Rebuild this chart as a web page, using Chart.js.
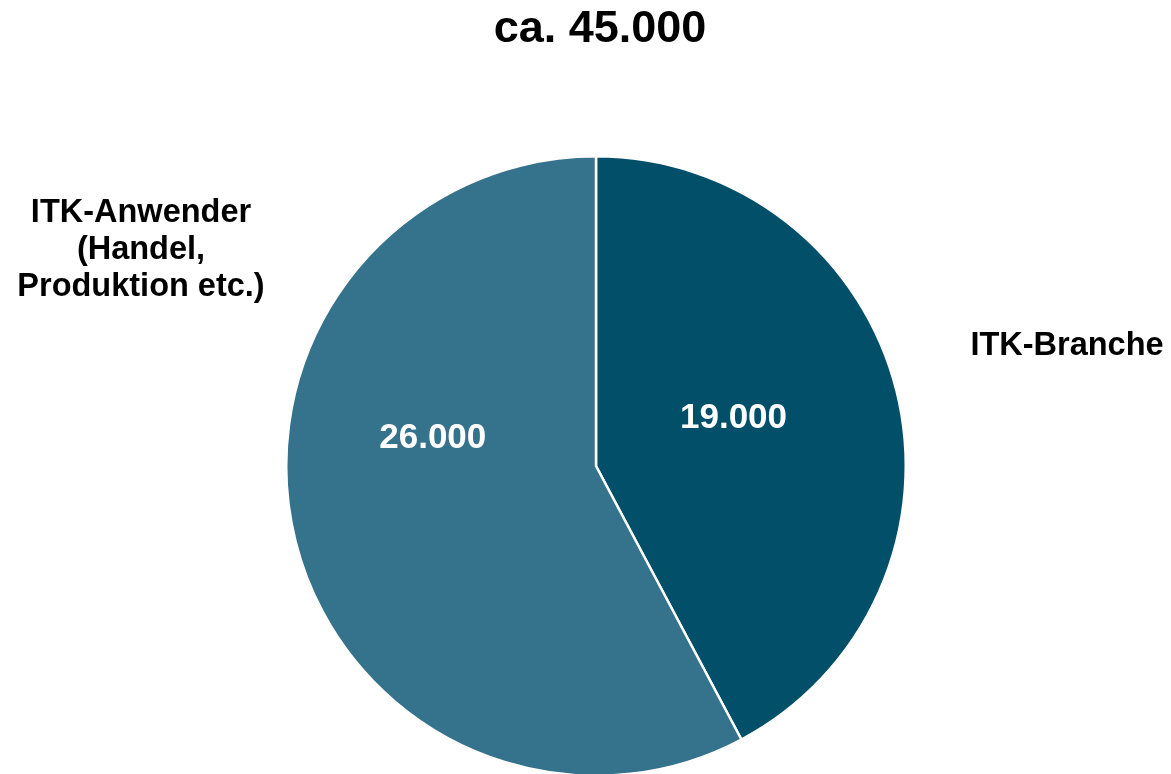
<!DOCTYPE html>
<html><head><meta charset="utf-8">
<script src="https://cdn.jsdelivr.net/npm/chart.js@4/dist/chart.umd.min.js"></script>
<style>
html,body{margin:0;padding:0;background:#fff;overflow:hidden;width:1171px;height:774px;}
#wrap{position:absolute;left:0;top:0;width:1171px;height:778px;}
</style></head>
<body>
<div id="wrap"><canvas id="c"></canvas></div>
<script>
const title = "ca. 45.000";
const categories = ["ITK-Branche", "ITK-Anwender (Handel, Produktion etc.)"];
const categoryLines = [["ITK-Branche"], ["ITK-Anwender", "(Handel,", "Produktion etc.)"]];
const values = [19000, 26000];
const valueLabels = ["19.000", "26.000"];
const colors = ["#024F6A", "#35728B"];

const textPlugin = {
  id: 'texts',
  afterDraw(chart) {
    const ctx = chart.ctx;
    ctx.save();
    ctx.textAlign = 'center';
    ctx.textBaseline = 'middle';
    ctx.fillStyle = '#000';
    ctx.font = 'bold 45px "Liberation Sans", Arial, sans-serif';
    ctx.fillText(title, 600, 30);
    // category labels
    ctx.font = 'bold 32.5px "Liberation Sans", Arial, sans-serif';
    const catPos = [[1067, 346], [141, 213]];
    categoryLines.forEach((lines, i) => {
      lines.forEach((ln, j) => {
        ctx.fillText(ln, catPos[i][0], catPos[i][1] + j * 37);
      });
    });
    // values inside slices, placed relative to the pie centre
    ctx.fillStyle = '#fff';
    ctx.font = 'bold 35px "Liberation Sans", Arial, sans-serif';
    const meta = chart.getDatasetMeta(0);
    const rel = [[0.444, -0.16], [-0.527, -0.097]];
    meta.data.forEach((arc, i) => {
      const p = arc.getProps(['x','y','outerRadius'], true);
      ctx.fillText(valueLabels[i], p.x + rel[i][0] * p.outerRadius, p.y + rel[i][1] * p.outerRadius + 2);
    });
    ctx.restore();
  }
};

new Chart(document.getElementById('c'), {
  type: 'pie',
  data: {
    labels: categories,
    datasets: [{
      data: values,
      backgroundColor: colors,
      borderColor: '#ffffff',
      borderWidth: 2.5
    }]
  },
  options: {
    responsive: true,
    maintainAspectRatio: false,
    animation: false,
    layout: { padding: { left: 285, right: 264, top: 155, bottom: 1 } },
    plugins: { legend: { display: false }, tooltip: { enabled: false }, title: { display: false } }
  },
  plugins: [textPlugin]
});
</script>
</body></html>
